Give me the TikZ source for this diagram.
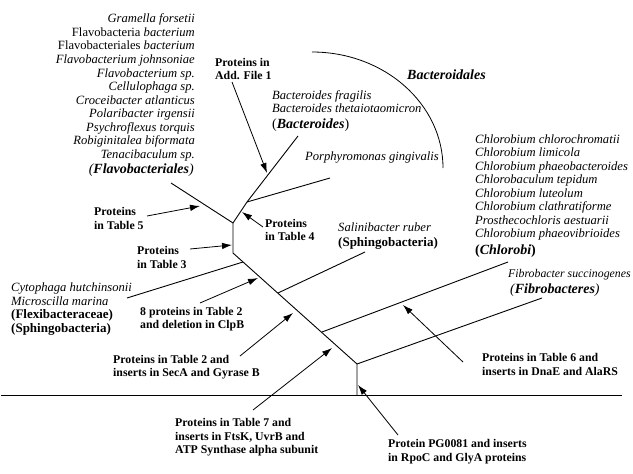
\documentclass[tikz,border=0pt]{standalone}
\usepackage{fontspec}
\setmainfont{Liberation Serif}
\usetikzlibrary{arrows.meta}
\begin{document}
\begin{tikzpicture}[x=1pt,y=-1pt,
  lbl/.style={font=\fontsize{11.8}{13.6}\selectfont\bfseries,align=left,inner sep=0pt,anchor=west},
  sp/.style={font=\fontsize{12.6}{13.55}\selectfont\itshape,inner sep=0pt},
  grp/.style={font=\fontsize{14}{14}\selectfont\bfseries\itshape,inner sep=0pt},
  grpu/.style={font=\fontsize{13}{14}\selectfont\bfseries,inner sep=0pt,align=left,anchor=west},
  br/.style={line width=0.9pt},
  arr/.style={line width=0.8pt,-{Latex[length=10pt,width=6.5pt]}}]
\useasboundingbox (0,0) rectangle (633,474);
% tree coordinates
\coordinate (fl) at (171,183);
\coordinate (n1) at (233,223);
\coordinate (n2) at (233,253);
\coordinate (nb) at (247,202);
\coordinate (bt) at (298,136);
\coordinate (pg) at (330,178);
\coordinate (ct0) at (127,298);
\coordinate (ct1) at (243,262);
\coordinate (sa0) at (278,293);
\coordinate (sa1) at (365,252);
\coordinate (ch0) at (322,332);
\coordinate (ch1) at (508,262);
\coordinate (n3) at (357,364);
\coordinate (fb1) at (542,298);
\coordinate (n4) at (357,395);
\coordinate (hl0) at (1,395);
\coordinate (hl1) at (622,395);
% branches
\draw[br] (fl) -- (n1) -- (n2) -- (n3) -- (n4);
\draw[br] (n1) -- (nb) -- (bt);
\draw[br] (nb) -- (pg);
\draw[br] (ct0) -- (ct1);
\draw[br] (sa0) -- (sa1);
\draw[br] (ch0) -- (ch1);
\draw[br] (n3) -- (fb1);
\draw[br] (hl0) -- (hl1);
% Bacteroidales arc
\draw[line width=0.8pt] (312,52) arc[start angle=-90,end angle=0,x radius=131,y radius=116];
% species texts
\node[sp,align=right,anchor=east] (flavo) at (195,87.5) {Gramella forsetii\\
{\upshape Flavobacteria} bacterium\\
{\upshape Flavobacteriales} bacterium\\
Flavobacterium johnsoniae\\
Flavobacterium sp.\\
Cellulophaga sp.\\
Croceibacter atlanticus\\
Polaribacter irgensii\\
Psychroflexus torquis\\
Robiginitalea biformata\\
Tenacibaculum sp.};
\node[grp,anchor=east] (flavog) at (194,170) {{\mdseries(}Flavobacteriales{\mdseries)}};
\node[grp,anchor=west] (bacdl) at (407,75) {Bacteroidales};
\node[sp,align=left,anchor=west] (bacsp) at (272,101.5) {Bacteroides fragilis\\Bacteroides thetaiotaomicron};
\node[grp,anchor=west] (bacg) at (272,125) {{\mdseries\upshape(}Bacteroides{\mdseries\upshape)}};
\node[sp,anchor=west] (porph) at (305,157) {Porphyromonas gingivalis};
\node[sp,align=left,anchor=west] (chsp) at (475,187.5) {Chlorobium chlorochromatii\\
Chlorobium limicola\\
Chlorobium phaeobacteroides\\
Chlorobaculum tepidum\\
Chlorobium luteolum\\
Chlorobium clathratiforme\\
Prosthecochloris aestuarii\\
Chlorobium phaeovibrioides};
\node[grp,anchor=west] (chg) at (475,251) {{\upshape(}Chlorobi{\upshape)}};
\node[sp,anchor=west] (salsp) at (338,227) {Salinibacter ruber};
\node[grpu] (salg) at (338,243) {(Sphingobacteria)};
\node[sp,anchor=west,font=\fontsize{11.8}{13}\selectfont\itshape] (fibsp) at (508,275) {Fibrobacter succinogenes};
\node[grp,anchor=west] (fibg) at (510,290) {{\mdseries(}Fibrobacteres{\mdseries)}};
\node[sp,align=left,anchor=west] (cytsp) at (11,294) {Cytophaga hutchinsonii\\Microscilla marina};
\node[grpu] (cytg) at (11,322) {(Flexibacteraceae)\\(Sphingobacteria)};
% labels
\node[lbl] (lA) at (215,69) {Proteins in\\Add. File 1};
\node[lbl] (l5) at (94,218.5) {Proteins\\in Table 5};
\node[lbl] (l4) at (265,230) {Proteins\\in Table 4};
\node[lbl] (l3) at (137,257.5) {Proteins\\in Table 3};
\node[lbl] (l8) at (140,319) {8 proteins in Table 2\\and deletion in ClpB};
\node[lbl] (l2) at (113,367) {Proteins in Table 2 and\\inserts in SecA and Gyrase B};
\node[lbl] (l7) at (175,437.5) {Proteins in Table 7 and\\inserts in FtsK, UvrB and\\ATP Synthase alpha subunit};
\node[lbl] (lP) at (388,451.5) {Protein PG0081 and inserts\\in RpoC and GlyA proteins};
\node[lbl] (l6) at (482,364.5) {Proteins in Table 6 and\\inserts in DnaE and AlaRS};
% arrow coordinates
\coordinate (aA0) at (232,82);  \coordinate (aA1) at (267,173);
\coordinate (a50) at (147,216); \coordinate (a51) at (200,206);
\coordinate (a40) at (263,227); \coordinate (a41) at (242,212);
\coordinate (a30) at (190,249); \coordinate (a31) at (232,245);
\coordinate (a80) at (200,303); \coordinate (a81) at (258,278);
\coordinate (a20) at (240,356); \coordinate (a21) at (293,313);
\coordinate (a70) at (253,410); \coordinate (a71) at (332,348);
\coordinate (aP0) at (398,435); \coordinate (aP1) at (358,385);
\coordinate (a60) at (463,362); \coordinate (a61) at (403,305);
\draw[arr] (aA0) -- (aA1);
\draw[arr] (a50) -- (a51);
\draw[arr] (a40) -- (a41);
\draw[arr] (a30) -- (a31);
\draw[arr] (a80) -- (a81);
\draw[arr] (a20) -- (a21);
\draw[arr] (a70) -- (a71);
\draw[arr] (aP0) -- (aP1);
\draw[arr] (a60) -- (a61);
\end{tikzpicture}
\end{document}
